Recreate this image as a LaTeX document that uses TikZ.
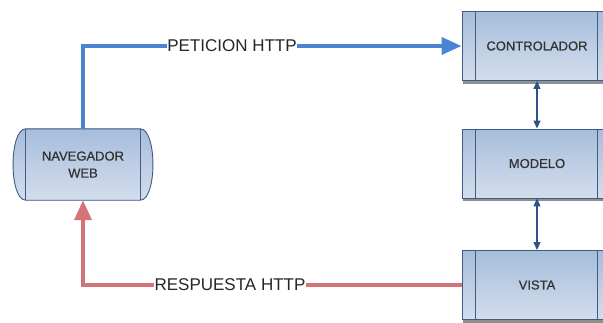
\documentclass[tikz,border=0pt]{standalone}
\usepackage{fontspec}
\setmainfont{Liberation Sans}
\newfontfamily\boxfont[FakeBold=0.5]{Liberation Sans}
\usetikzlibrary{arrows.meta,shadows}
\definecolor{boxedge}{HTML}{3F5C82}
\definecolor{boxtop}{HTML}{A7BDDB}
\definecolor{boxbot}{HTML}{D3DEED}
\definecolor{reqblue}{HTML}{4A84D2}
\definecolor{resred}{HTML}{D4747A}
\definecolor{linkblue}{HTML}{2C5585}
\definecolor{boxtext}{HTML}{333333}
\tikzset{
  procbox/.style={rectangle, draw=boxedge, line width=0.9pt,
    top color=boxtop, bottom color=boxbot,
    minimum width=150pt, minimum height=69pt, inner sep=0pt,
    font=\boxfont\fontsize{13}{15}\selectfont, text=boxtext,
    drop shadow={shadow xshift=1pt, shadow yshift=-3pt, fill=black!55, opacity=0.8}},
  flowlabel/.style={fill=white, inner sep=0.5pt, font=\fontsize{17}{19}\selectfont, text=black!85},
  reqline/.style={draw=reqblue, line width=4pt, -{Triangle[length=20pt,width=17pt]}},
  resline/.style={draw=resred, line width=4pt, -{Triangle[length=20pt,width=17pt]}},
  linkline/.style={draw=linkblue, line width=1.3pt, {Triangle[length=8pt,width=7pt]}-{Triangle[length=8pt,width=7pt]}},
  innerline/.style={draw=boxedge, line width=0.9pt}
}
\begin{document}
\begin{tikzpicture}[x=1pt,y=-1pt]
\useasboundingbox (0,0) rectangle (603,322);

% server side components
\node[procbox] (ctrl) at (537,46) {CONTROLADOR};
\node[procbox] (model) at (537,163.5) {MODELO};
\node[procbox] (view) at (537,285) {VISTA};
\foreach \n in {ctrl,model,view}{
  \draw[innerline] ([xshift=14pt]\n.north west) -- ([xshift=14pt]\n.south west);
  \draw[innerline] ([xshift=-15pt]\n.north east) -- ([xshift=-15pt]\n.south east);
}

% browser: box with rounded ends
\node[minimum width=114pt, minimum height=71pt, inner sep=0pt] (nav) at (83,164.5) {};
\fill[black!55, opacity=0.8, xshift=1pt, yshift=-3pt]
  (nav.north west) -- (nav.north east)
  .. controls ([xshift=17pt]nav.north east) and ([xshift=17pt]nav.south east) .. (nav.south east)
  -- (nav.south west)
  .. controls ([xshift=-17pt]nav.south west) and ([xshift=-17pt]nav.north west) .. (nav.north west) -- cycle;
\draw[boxedge, line width=0.9pt, top color=boxtop, bottom color=boxbot]
  (nav.north west) -- (nav.north east)
  .. controls ([xshift=17pt]nav.north east) and ([xshift=17pt]nav.south east) .. (nav.south east)
  -- (nav.south west)
  .. controls ([xshift=-17pt]nav.south west) and ([xshift=-17pt]nav.north west) .. (nav.north west) -- cycle;
\draw[innerline] (nav.north west) -- (nav.south west);
\draw[innerline] (nav.north east) -- (nav.south east);
\node[align=center, font=\boxfont\fontsize{13}{17}\selectfont, text=boxtext] (navtext) at (nav.center) {NAVEGADOR\\WEB};

% links between components
\draw[linkline] (ctrl.south) -- (model.north);
\draw[linkline] (model.south) -- (view.north);

% request and response
\draw[reqline] (nav.north) |- (ctrl.west);
\draw[resline] (view.west) -| (nav.south);
\node[flowlabel] (req) at (232,46) {PETICION HTTP};
\node[flowlabel] (res) at (230,285) {RESPUESTA HTTP};
\end{tikzpicture}
\end{document}
